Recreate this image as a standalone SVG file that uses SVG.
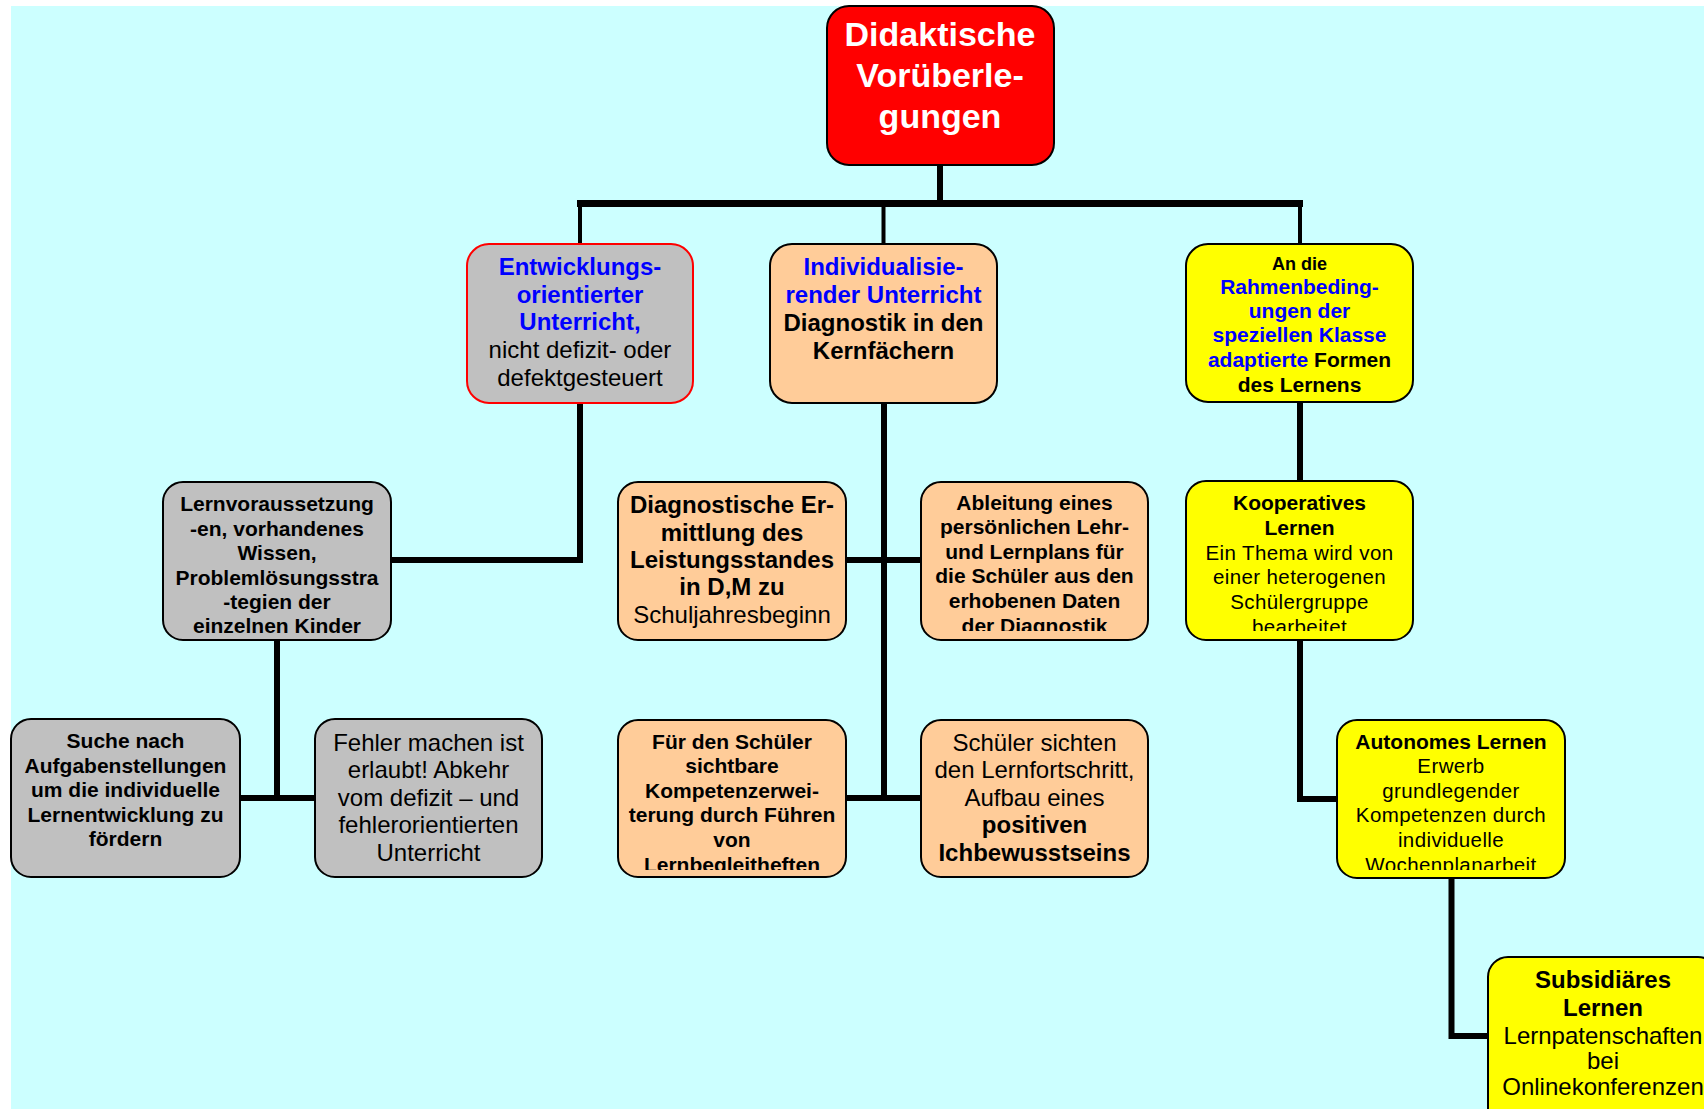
<svg xmlns="http://www.w3.org/2000/svg" width="1704" height="1109" viewBox="0 0 1704 1109">
<style>
.box{stroke:#000;stroke-width:2}
.gray{fill:#C0C0C0}.peach{fill:#FFCC99}.yellow{fill:#FFFF00}.red{fill:#FF0000}
text{font-family:"Liberation Sans",Arial,Helvetica,sans-serif;text-anchor:middle;fill:#000}
.b{font-weight:bold}
.blue{fill:#0000FF}
.wh{fill:#FFFFFF}
.conn{stroke:#000;fill:none;stroke-linecap:butt;stroke-linejoin:miter}
.ls{letter-spacing:0.4px}
</style>
<defs>
<clipPath id="cAbl"><rect x="921" y="482" width="227" height="149"/></clipPath>
<clipPath id="cFur"><rect x="618" y="720" width="228" height="150"/></clipPath>
<clipPath id="cKoop"><rect x="1186" y="481" width="227" height="150"/></clipPath>
<clipPath id="cAuto"><rect x="1337" y="720" width="228" height="150"/></clipPath>
</defs>
<rect x="0" y="0" width="1704" height="1109" fill="#FFFFFF"/>
<rect x="11" y="6" width="1693" height="1103" fill="#CCFFFF"/>

<g id="connectors">
<path class="conn" stroke-width="6" d="M940 165 V204"/>
<path class="conn" stroke-width="7" d="M577 203.5 H1303"/>
<path class="conn" stroke-width="4" d="M580 207 V244 M883.5 207 V244 M1300 207 V244"/>
<path class="conn" stroke-width="6" d="M580 403 V560 H391"/>
<path class="conn" stroke-width="6" d="M277 640 V798 M240 798 H315"/>
<path class="conn" stroke-width="6" d="M884 403 V798 M846 560 H921 M846 798 H921"/>
<path class="conn" stroke-width="6" d="M1300 402 V481"/>
<path class="conn" stroke-width="6" d="M1300 640 V799 H1337"/>
<path class="conn" stroke-width="6" d="M1451.5 878 V1036 H1488"/>
</g>

<g id="root">
<rect class="box red" x="827" y="6" width="227" height="159" rx="22"/>
<text class="b wh" font-size="34" x="940" y="46">Didaktische</text>
<text class="b wh" font-size="34" x="940" y="87">Vorüberle-</text>
<text class="b wh" font-size="34" x="940" y="128">gungen</text>
</g>

<g id="entwicklung">
<rect class="gray" x="467" y="244" width="226" height="159" rx="22" stroke="#FF0000" stroke-width="2"/>
<text class="b blue" font-size="24" x="580" y="275">Entwicklungs-</text>
<text class="b blue" font-size="24" x="580" y="302.5">orientierter</text>
<text class="b blue" font-size="24" x="580" y="330">Unterricht,</text>
<text font-size="24" x="580" y="358">nicht defizit- oder</text>
<text font-size="24" x="580" y="385.5">defektgesteuert</text>
</g>

<g id="individual">
<rect class="box peach" x="770" y="244" width="227" height="159" rx="22"/>
<text class="b blue" font-size="24" x="883.5" y="275">Individualisie-</text>
<text class="b blue" font-size="24" x="883.5" y="303">render Unterricht</text>
<text class="b" font-size="24" x="883.5" y="330.5">Diagnostik in den</text>
<text class="b" font-size="24" x="883.5" y="358.5">Kernfächern</text>
</g>

<g id="rahmen">
<rect class="box yellow" x="1186" y="244" width="227" height="158" rx="22"/>
<text class="b" font-size="18" x="1299.5" y="270">An die</text>
<text class="b blue" font-size="21" x="1299.5" y="294">Rahmenbeding-</text>
<text class="b blue" font-size="21" x="1299.5" y="318">ungen der</text>
<text class="b blue" font-size="21" x="1299.5" y="342">speziellen Klasse</text>
<text class="b" font-size="21" x="1299.5" y="366.5"><tspan class="blue">adaptierte</tspan> Formen</text>
<text class="b" font-size="21" x="1299.5" y="391.5">des Lernens</text>
</g>

<g id="lernvoraussetzung">
<rect class="box gray" x="163" y="482" width="228" height="158" rx="20"/>
<text class="b" font-size="21" x="277" y="511">Lernvoraussetzung</text>
<text class="b" font-size="21" x="277" y="535.5">-en, vorhandenes</text>
<text class="b" font-size="21" x="277" y="560">Wissen,</text>
<text class="b" font-size="21" x="277" y="584.5">Problemlösungsstra</text>
<text class="b" font-size="21" x="277" y="608.5">-tegien der</text>
<text class="b" font-size="21" x="277" y="633">einzelnen Kinder</text>
</g>

<g id="suche">
<rect class="box gray" x="11" y="719" width="229" height="158" rx="20"/>
<text class="b" font-size="21" x="125.5" y="748">Suche nach</text>
<text class="b" font-size="21" x="125.5" y="772.5">Aufgabenstellungen</text>
<text class="b" font-size="21" x="125.5" y="797">um die individuelle</text>
<text class="b" font-size="21" x="125.5" y="821.5">Lernentwicklung zu</text>
<text class="b" font-size="21" x="125.5" y="846">fördern</text>
</g>

<g id="fehler">
<rect class="box gray" x="315" y="719" width="227" height="158" rx="20"/>
<text font-size="24" x="428.5" y="751">Fehler machen ist</text>
<text font-size="24" x="428.5" y="778">erlaubt! Abkehr</text>
<text font-size="24" x="428.5" y="805.5">vom defizit – und</text>
<text font-size="24" x="428.5" y="833">fehlerorientierten</text>
<text font-size="24" x="428.5" y="860.5">Unterricht</text>
</g>

<g id="diagnostische">
<rect class="box peach" x="618" y="482" width="228" height="158" rx="20"/>
<text class="b" font-size="24" x="732" y="513">Diagnostische Er-</text>
<text class="b" font-size="24" x="732" y="540.5">mittlung des</text>
<text class="b" font-size="24" x="732" y="568">Leistungsstandes</text>
<text class="b" font-size="24" x="732" y="595">in D,M zu</text>
<text font-size="24" x="732" y="623">Schuljahresbeginn</text>
</g>

<g id="ableitung">
<rect class="box peach" x="921" y="482" width="227" height="158" rx="20"/>
<g clip-path="url(#cAbl)">
<text class="b" font-size="21" x="1034.5" y="509.5">Ableitung eines</text>
<text class="b" font-size="21" x="1034.5" y="534">persönlichen Lehr-</text>
<text class="b" font-size="21" x="1034.5" y="558.5">und Lernplans für</text>
<text class="b" font-size="21" x="1034.5" y="583">die Schüler aus den</text>
<text class="b" font-size="21" x="1034.5" y="607.5">erhobenen Daten</text>
<text class="b" font-size="21" x="1034.5" y="633">der Diagnostik</text>
</g>
</g>

<g id="fuer">
<rect class="box peach" x="618" y="720" width="228" height="157" rx="20"/>
<g clip-path="url(#cFur)">
<text class="b" font-size="21" x="732" y="748.5">Für den Schüler</text>
<text class="b" font-size="21" x="732" y="772.5">sichtbare</text>
<text class="b" font-size="21" x="732" y="797.5">Kompetenzerwei-</text>
<text class="b" font-size="21" x="732" y="822">terung durch Führen</text>
<text class="b" font-size="21" x="732" y="846.5">von</text>
<text class="b" font-size="21" x="732" y="872">Lernbegleitheften</text>
</g>
</g>

<g id="sichten">
<rect class="box peach" x="921" y="720" width="227" height="157" rx="20"/>
<text font-size="24" x="1034.5" y="751">Schüler sichten</text>
<text font-size="24" x="1034.5" y="778">den Lernfortschritt,</text>
<text font-size="24" x="1034.5" y="805.5">Aufbau eines</text>
<text class="b" font-size="24" x="1034.5" y="833">positiven</text>
<text class="b" font-size="24" x="1034.5" y="861">Ichbewusstseins</text>
</g>

<g id="kooperativ">
<rect class="box yellow" x="1186" y="481" width="227" height="159" rx="20"/>
<g clip-path="url(#cKoop)">
<text class="b" font-size="21" x="1299.5" y="510">Kooperatives</text>
<text class="b" font-size="21" x="1299.5" y="534.5">Lernen</text>
<text class="ls" font-size="20.5" x="1299.5" y="559.5">Ein Thema wird von</text>
<text class="ls" font-size="20.5" x="1299.5" y="584">einer heterogenen</text>
<text class="ls" font-size="20.5" x="1299.5" y="609">Schülergruppe</text>
<text class="ls" font-size="20.5" x="1299.5" y="634">bearbeitet</text>
</g>
</g>

<g id="autonom">
<rect class="box yellow" x="1337" y="720" width="228" height="158" rx="20"/>
<g clip-path="url(#cAuto)">
<text class="b" font-size="21" x="1451" y="748.5">Autonomes Lernen</text>
<text class="ls" font-size="20.5" x="1451" y="772.5">Erwerb</text>
<text class="ls" font-size="20.5" x="1451" y="797.5">grundlegender</text>
<text class="ls" font-size="20.5" x="1451" y="822">Kompetenzen durch</text>
<text class="ls" font-size="20.5" x="1451" y="847">individuelle</text>
<text class="ls" font-size="20.5" x="1451" y="872">Wochenplanarbeit</text>
</g>
</g>

<g id="subsidiaer">
<rect class="box yellow" x="1488" y="957" width="230" height="175" rx="20"/>
<text class="b" font-size="24" x="1603" y="988">Subsidiäres</text>
<text class="b" font-size="24" x="1603" y="1016">Lernen</text>
<text font-size="24" x="1603" y="1043.5">Lernpatenschaften</text>
<text font-size="24" x="1603" y="1069">bei</text>
<text font-size="24" x="1603" y="1094.5">Onlinekonferenzen</text>
</g>
</svg>
